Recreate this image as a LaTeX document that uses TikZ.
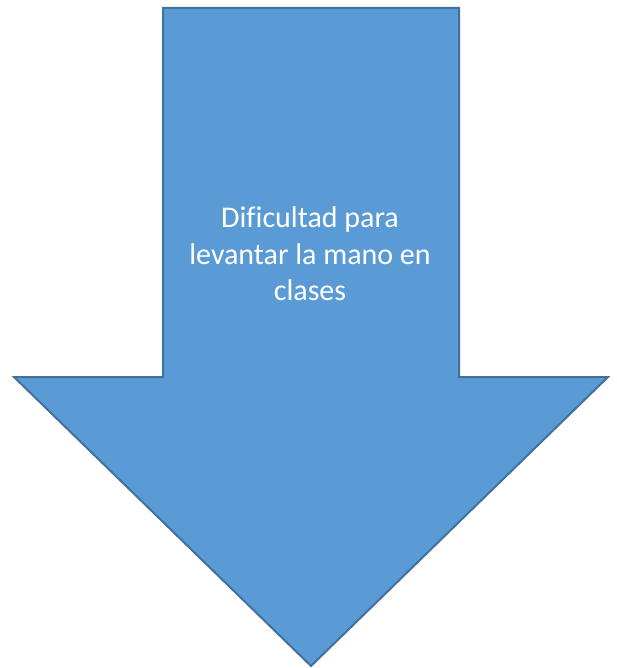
\documentclass[tikz,border=0pt]{standalone}
\usepackage{fontspec}
\setmainfont{Carlito}[Ligatures=NoCommon]
\definecolor{arrowfill}{HTML}{5B9BD5}
\definecolor{arrowline}{HTML}{41719C}
\tikzset{
  arrowshape/.style={fill=arrowfill, draw=arrowline, line width=2pt, line join=miter},
  arrowtext/.style={text=white, align=center, font=\fontsize{30}{36.6}\selectfont, inner sep=0pt}
}
\begin{document}
\begin{tikzpicture}[x=1pt,y=-1pt]
\useasboundingbox (0,0) rectangle (616,668);
\coordinate (tl) at (163,8);
\coordinate (tr) at (459,8);
\coordinate (sr) at (459,377);
\coordinate (hr) at (608,377);
\coordinate (tip) at (311,666);
\coordinate (hl) at (14,377);
\coordinate (sl) at (163,377);
\draw[arrowshape] (tl) -- (tr) -- (sr) -- (hr) -- (tip) -- (hl) -- (sl) -- cycle;
\node[arrowtext] (label) at (310,254) {Dificultad para\\levantar la mano en\\clases};
\end{tikzpicture}
\end{document}
